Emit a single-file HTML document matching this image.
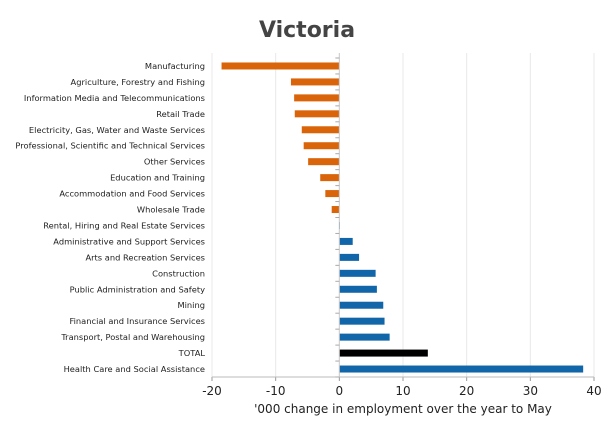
<!DOCTYPE html>
<html><head><meta charset="utf-8"><style>
body{margin:0;background:#fff;font-family:"DejaVu Sans","Liberation Sans",sans-serif;}
</style></head><body>
<svg id="chart" width="612" height="426" xmlns="http://www.w3.org/2000/svg">
<text x="307" y="37" text-anchor="middle" font-size="22" font-weight="bold" fill="#444">Victoria</text>
<g id="grid"></g><g id="bars"></g><g id="labels"></g><g id="axis"></g>
<text x="403" y="413" text-anchor="middle" font-size="12" fill="#222">'000 change in employment over the year to May</text>
</svg>
<script>
const categories=["Manufacturing","Agriculture, Forestry and Fishing","Information Media and Telecommunications","Retail Trade","Electricity, Gas, Water and Waste Services","Professional, Scientific and Technical Services","Other Services","Education and Training","Accommodation and Food Services","Wholesale Trade","Rental, Hiring and Real Estate Services","Administrative and Support Services","Arts and Recreation Services","Construction","Public Administration and Safety","Mining","Financial and Insurance Services","Transport, Postal and Warehousing","TOTAL","Health Care and Social Assistance"];
const values=[-18.5,-7.6,-7.1,-7.0,-5.9,-5.6,-4.9,-3.0,-2.2,-1.2,0.1,2.1,3.1,5.7,5.9,6.9,7.1,7.9,13.9,38.3];
const ticks=[-20,-10,0,10,20,30,40];
const ns="http://www.w3.org/2000/svg";
const x0=212,x1=594,xmin=-20,xmax=40,plotTop=58,plotBottom=377;
const xs=v=>x0+(v-xmin)/(xmax-xmin)*(x1-x0);
const band=(plotBottom-plotTop)/categories.length;
const ys=i=>plotTop+band*i+band/2;
function mk(t,a,p){const e=document.createElementNS(ns,t);for(const k in a)e.setAttribute(k,a[k]);document.getElementById(p).appendChild(e);return e;}
ticks.forEach(t=>{
 const g=mk('line',{x1:xs(t),x2:xs(t),y1:plotTop-5,y2:plotBottom,stroke:'#e8e8e8'},'grid');
 
 
 const tl=mk('line',{x1:xs(t),x2:xs(t),y1:plotBottom,y2:plotBottom+4,stroke:'#999'},'axis');
 
 
 const tx=mk('text',{x:xs(t),y:plotBottom+18,'text-anchor':'middle','font-size':12,fill:'#222'},'axis');
 tx.textContent=t;
 
 
});
const al=mk('line',{x1:x0,x2:x1,y1:plotBottom,y2:plotBottom,stroke:'#bbb'},'axis');


const zl=mk('line',{x1:xs(0),x2:xs(0),y1:plotTop-5,y2:plotBottom,stroke:'#ccc'},'axis');


for(let i=0;i<=categories.length;i++){
 const ct=mk('line',{x1:xs(0)-4,x2:xs(0),y1:plotTop+band*i,y2:plotTop+band*i,stroke:'#aaa'},'axis');
 
 
}
categories.forEach((c,i)=>{
 const v=values[i];
 const col=c==="TOTAL"?'#000':(v<0?'#d9640a':'#1166aa');
 const b=mk('rect',{x:Math.min(xs(v),xs(0)),y:ys(i)-3.5,width:Math.abs(xs(v)-xs(0)),height:7,fill:col},'bars');
 
 
 const l=mk('text',{x:205,y:ys(i)+3,'text-anchor':'end','font-size':8.3,fill:'#222'},'labels');
 l.textContent=c;
 
 
});
</script>
</body></html>
